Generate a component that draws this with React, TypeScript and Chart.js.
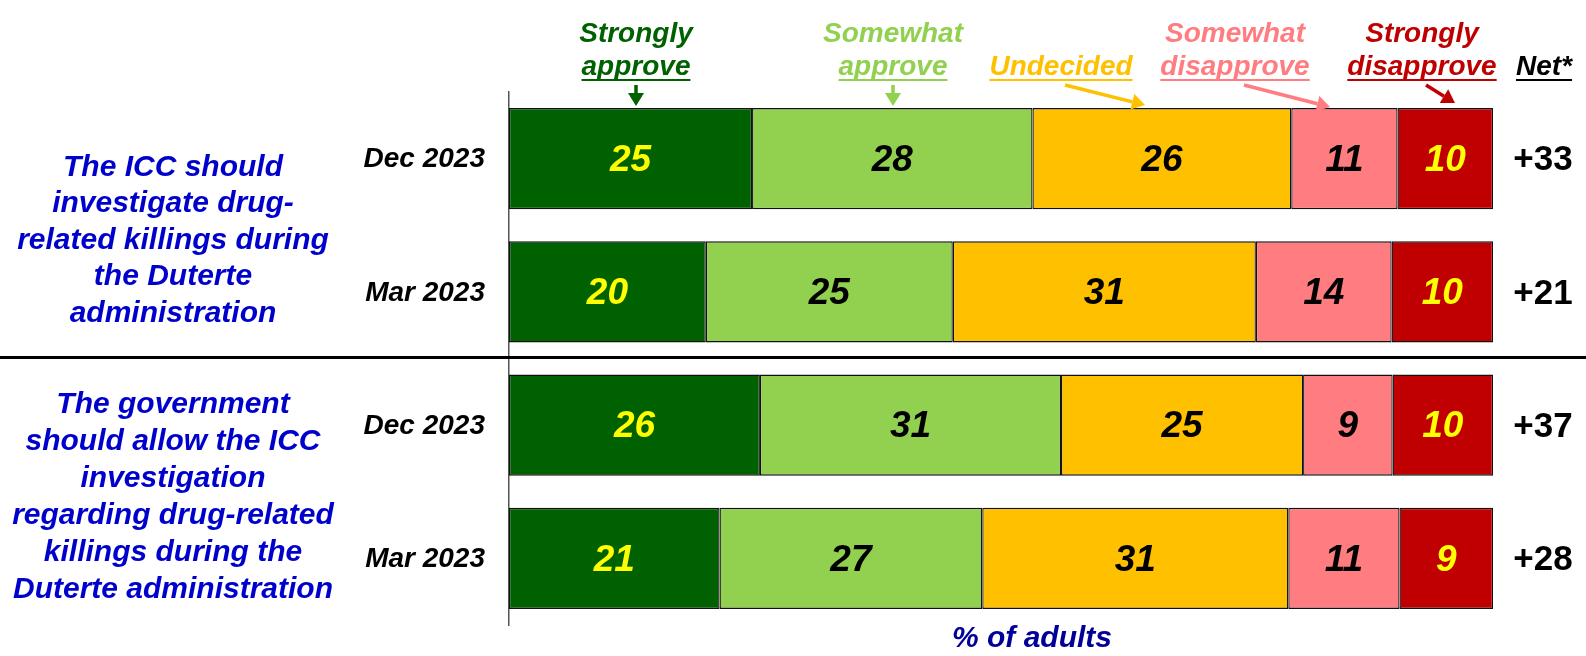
import React, { useEffect, useRef } from "react";
import { Chart, registerables } from "chart.js";

Chart.register(...registerables);

// ---- data ----
const categories = ["Dec 2023", "Mar 2023", "Dec 2023", "Mar 2023"];
const seriesNames = ["Strongly approve", "Somewhat approve", "Undecided", "Somewhat disapprove", "Strongly disapprove"];
// bar lengths (% of adults)
const stronglyApprove = [24.7, 20.0, 25.5, 21.4];
const somewhatApprove = [28.5, 25.1, 30.6, 26.7];
const undecided = [26.3, 30.8, 24.6, 31.1];
const somewhatDisapprove = [10.8, 13.8, 9.1, 11.3];
const stronglyDisapprove = [9.7, 10.3, 10.2, 9.5];
// displayed labels
const stronglyApproveLabels = ["25", "20", "26", "21"];
const somewhatApproveLabels = ["28", "25", "31", "27"];
const undecidedLabels = ["26", "31", "25", "31"];
const somewhatDisapproveLabels = ["11", "14", "9", "11"];
const stronglyDisapproveLabels = ["10", "10", "10", "9"];
const netValues = ["+33", "+21", "+37", "+28"];
const groupOneLines = ["The ICC should", "investigate drug-", "related killings during", "the Duterte", "administration"];
const groupTwoLines = ["The government", "should allow the ICC", "investigation", "regarding drug-related", "killings during the", "Duterte administration"];
const xAxisTitle = "% of adults";
const netHeader = "Net*";

const FONT = "'Liberation Sans', Arial, Helvetica, sans-serif";

const colors = ["#006100", "#92D050", "#FFC000", "#FF7C80", "#C00000"];
const valueColors = ["#FFFF00", "#000000", "#000000", "#000000", "#FFFF00"];

const headerSpecs = [
  { lines: ["Strongly", "approve"], x: 636, color: "#006100", arrow: [636, 85, 636, 106] },
  { lines: ["Somewhat", "approve"], x: 893, color: "#92D050", arrow: [893, 85, 893, 106] },
  { lines: ["Undecided"], x: 1061, color: "#FFC000", arrow: [1065, 85, 1145, 105] },
  { lines: ["Somewhat", "disapprove"], x: 1235, color: "#FF7C80", arrow: [1244, 85, 1330, 107] },
  { lines: ["Strongly", "disapprove"], x: 1422, color: "#C00000", arrow: [1426, 85, 1455, 103] },
];

function drawArrow(ctx: CanvasRenderingContext2D, x1: number, y1: number, x2: number, y2: number, color: string) {
  const ang = Math.atan2(y2 - y1, x2 - x1);
  const head = 13;
  const hw = 8;
  const bx = x2 - head * Math.cos(ang);
  const by = y2 - head * Math.sin(ang);
  ctx.save();
  ctx.strokeStyle = color;
  ctx.fillStyle = color;
  ctx.lineWidth = 3.5;
  ctx.beginPath();
  ctx.moveTo(x1, y1);
  ctx.lineTo(bx, by);
  ctx.stroke();
  ctx.beginPath();
  ctx.moveTo(x2, y2);
  ctx.lineTo(bx + hw * Math.sin(ang), by - hw * Math.cos(ang));
  ctx.lineTo(bx - hw * Math.sin(ang), by + hw * Math.cos(ang));
  ctx.closePath();
  ctx.fill();
  ctx.restore();
}

function underlinedText(ctx: CanvasRenderingContext2D, text: string, x: number, y: number, color: string, underline: boolean) {
  ctx.fillStyle = color;
  ctx.fillText(text, x, y);
  if (underline) {
    const w = ctx.measureText(text).width;
    ctx.strokeStyle = color;
    ctx.lineWidth = 2;
    ctx.beginPath();
    ctx.moveTo(x - w / 2, y + 13);
    ctx.lineTo(x + w / 2, y + 13);
    ctx.stroke();
  }
}

const labelPlugin = {
  id: "labelPlugin",
  afterDatasetsDraw(chart: any) {
    const ctx: CanvasRenderingContext2D = chart.ctx;
    const labelSets = [stronglyApproveLabels, somewhatApproveLabels, undecidedLabels, somewhatDisapproveLabels, stronglyDisapproveLabels];
    ctx.save();
    ctx.textAlign = "center";
    ctx.textBaseline = "middle";
    ctx.font = `italic bold 37px ${FONT}`;
    chart.data.datasets.forEach((ds: any, di: number) => {
      const meta = chart.getDatasetMeta(di);
      meta.data.forEach((bar: any, i: number) => {
        const cx = (bar.x + bar.base) / 2;
        ctx.fillStyle = valueColors[di];
        ctx.fillText(labelSets[di][i], cx, bar.y + 2);
      });
    });
    ctx.restore();
  },
  afterDraw(chart: any) {
    const ctx: CanvasRenderingContext2D = chart.ctx;
    const area = chart.chartArea;
    const meta0 = chart.getDatasetMeta(0);
    const ys = meta0.data.map((b: any) => b.y);
    const h = meta0.data[0].height;
    ctx.save();
    ctx.textBaseline = "middle";

    // category labels
    ctx.textAlign = "right";
    ctx.font = `italic bold 28px ${FONT}`;
    ctx.fillStyle = "#000000";
    categories.forEach((c, i) => ctx.fillText(c, area.left - 24, ys[i] + 1));

    // net values
    ctx.textAlign = "center";
    ctx.font = `bold 35px ${FONT}`;
    netValues.forEach((n, i) => ctx.fillText(n, area.right + 50, ys[i] + 2));

    // group labels
    ctx.font = `italic bold 30px ${FONT}`;
    ctx.fillStyle = "#0000CC";
    const g1c = (ys[0] + ys[1]) / 2 + 15;
    const lh1 = 36.5;
    groupOneLines.forEach((l, i) => ctx.fillText(l, 173, g1c + (i - (groupOneLines.length - 1) / 2) * lh1));
    const g2c = (ys[2] + ys[3]) / 2 + 5;
    const lh2 = 37;
    groupTwoLines.forEach((l, i) => ctx.fillText(l, 173, g2c + (i - (groupTwoLines.length - 1) / 2) * lh2));

    // separator line
    const sepY = (ys[1] + h / 2 + ys[2] - h / 2) / 2 - 1;
    ctx.strokeStyle = "#000000";
    ctx.lineWidth = 3;
    ctx.beginPath();
    ctx.moveTo(0, sepY);
    ctx.lineTo(chart.width, sepY);
    ctx.stroke();

    // header labels
    ctx.font = `italic bold 28px ${FONT}`;
    headerSpecs.forEach((hs) => {
      hs.lines.forEach((l, li) => {
        const y = hs.lines.length === 2 ? (li === 0 ? 34 : 67) : 67;
        underlinedText(ctx, l, hs.x, y, hs.color, li === hs.lines.length - 1);
      });
      const a = hs.arrow;
      drawArrow(ctx, a[0], a[1], a[2], a[3], hs.color);
    });
    underlinedText(ctx, netHeader, 1544, 67, "#000000", true);

    // x axis title
    ctx.fillStyle = "#000099";
    ctx.font = `italic bold 30px ${FONT}`;
    ctx.fillText(xAxisTitle, 1032, 639);
    ctx.restore();
  },
};

export default function App() {
  const ref = useRef<HTMLCanvasElement>(null);
  useEffect(() => {
    document.body.style.margin = "0";
    const seriesData = [stronglyApprove, somewhatApprove, undecided, somewhatDisapprove, stronglyDisapprove];
    const chart = new Chart(ref.current as HTMLCanvasElement, {
      type: "bar",
      data: {
        labels: categories,
        datasets: seriesData.map((d, i) => ({
          label: seriesNames[i],
          data: d,
          backgroundColor: colors[i],
          borderColor: "#111111",
          borderWidth: 1.3,
          borderSkipped: false,
          barPercentage: 0.758,
          categoryPercentage: 1,
        })),
      },
      options: {
        indexAxis: "y",
        responsive: false,
        animation: false,
        layout: { padding: { left: 509, right: 93, top: 92, bottom: 31 } },
        plugins: { legend: { display: false }, tooltip: { enabled: false } },
        scales: {
          x: { stacked: true, min: 0, max: 100, display: false },
          y: {
            stacked: true,
            display: true,
            ticks: { display: false },
            grid: { display: false, drawTicks: false },
            border: { display: true, color: "#555555", width: 1.5 },
          },
        },
      },
      plugins: [labelPlugin],
    } as any);
    return () => chart.destroy();
  }, []);
  return (
    <div style={{ width: 1586, height: 656, background: "#ffffff" }}>
      <canvas ref={ref} width={1586} height={656} />
    </div>
  );
}
